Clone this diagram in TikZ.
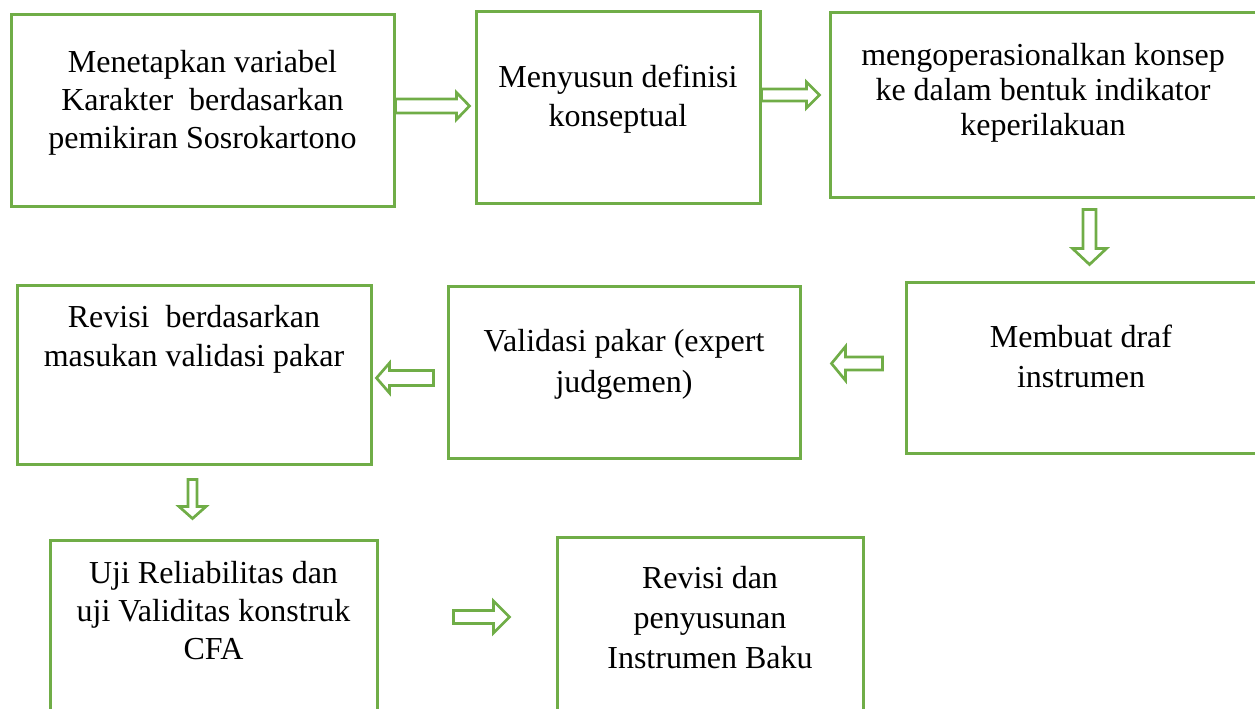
\documentclass[tikz,border=0pt]{standalone}
\usepackage{fontspec}
\setmainfont{Liberation Serif}
\usetikzlibrary{calc}
\definecolor{grn}{HTML}{70AD47}
\tikzset{
  box/.style={draw=grn, line width=3pt, rectangle, inner sep=0pt},
  txt/.style={inner sep=0pt, align=center, anchor=north, font=\fontsize{32}{38}\selectfont},
  barrow/.style={draw=grn, line width=2.7pt, line join=miter},
}
% #1 start coordinate, #2 angle, #3 length, #4 shaft half, #5 head half, #6 head length
\newcommand\blockarrow[6]{%
  \draw[barrow, shift={(#1)}, rotate=#2]
    (0,-#4) -- ({#3-#6},-#4) -- ({#3-#6},-#5) -- (#3,0) -- ({#3-#6},#5) -- ({#3-#6},#4) -- (0,#4) -- cycle;}
\begin{document}
\begin{tikzpicture}[x=1pt,y=-1pt]
\useasboundingbox (0,0) rectangle (1255,709);
\clip (0,0) rectangle (1255,709);
% boxes
\node[box, minimum width=383pt, minimum height=191pt] (b1) at (202.5,110.5) {};
\node[box, minimum width=284pt, minimum height=191pt] (b2) at (618,107.5) {};
\node[box, minimum width=426pt, minimum height=184pt] (b3) at (1043,105) {};
\node[box, minimum width=350pt, minimum height=171pt] (b4) at (1081,367.5) {};
\node[box, minimum width=352pt, minimum height=172pt] (b5) at (624,372) {};
\node[box, minimum width=354pt, minimum height=179pt] (b6) at (194,374.5) {};
\node[box, minimum width=327pt, minimum height=185pt] (b7) at (213.5,632.5) {};
\node[box, minimum width=306pt, minimum height=188pt] (b8) at (710,631) {};
% texts
\node[txt] (t1) at (202.5,50) {Menetapkan variabel\\Karakter\ \ berdasarkan\\pemikiran Sosrokartono};
\node[txt, font=\fontsize{32}{39}\selectfont] (t2) at (618,65) {Menyusun definisi\\konseptual};
\node[txt, font=\fontsize{32}{35}\selectfont] (t3) at (1043,43) {mengoperasionalkan konsep\\ke dalam bentuk indikator\\keperilakuan};
\node[txt, font=\fontsize{32}{40}\selectfont] (t4) at (1081,325) {Membuat draf\\instrumen};
\node[txt, font=\fontsize{32}{41}\selectfont] (t5) at (624,329) {Validasi pakar (expert\\judgemen)};
\node[txt, font=\fontsize{32}{39}\selectfont] (t6) at (194,305) {Revisi\ \ berdasarkan\\masukan validasi pakar};
\node[txt] (t7) at (213.5,561) {Uji Reliabilitas dan\\uji Validitas konstruk\\CFA};
\node[txt, font=\fontsize{32}{40}\selectfont] (t8) at (710,566) {Revisi dan\\penyusunan\\Instrumen Baku};
% arrow start coordinates
\coordinate (a1) at ($(b1.east)+(0,-4.5)$);
\coordinate (a2) at ($(b2.east)+(0,-12.5)$);
\coordinate (a3) at ($(b3.south)+(46.5,11)$);
\coordinate (a4) at ($(b4.west)+(-22,-4)$);
\coordinate (a5) at ($(b6.east)+(61,3.5)$);
\coordinate (a6) at ($(b6.south)+(-1.5,14)$);
\coordinate (a7) at ($(b7.east)+(75,-15.5)$);
\blockarrow{a1}{0}{74}{7}{13.5}{13}
\blockarrow{a2}{0}{58}{6}{13}{13}
\blockarrow{a3}{-90}{55}{6.5}{17}{16}
\blockarrow{a4}{180}{51}{6.5}{17}{14}
\blockarrow{a5}{180}{57}{7.5}{15}{13}
\blockarrow{a6}{-90}{39}{4.5}{13.5}{12}
\blockarrow{a7}{0}{56}{6.5}{16}{16}
\end{tikzpicture}
\end{document}
